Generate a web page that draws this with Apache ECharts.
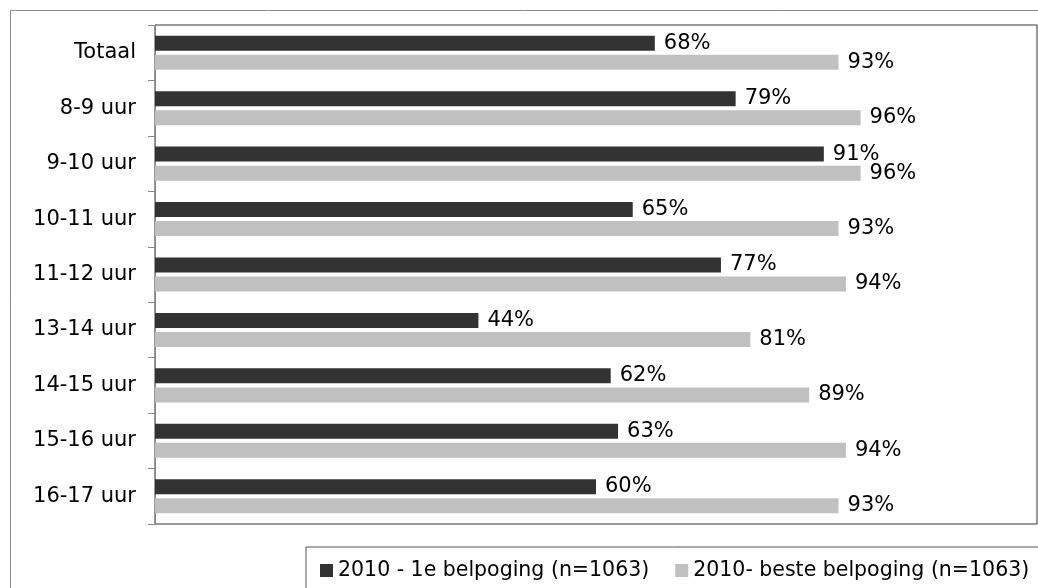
<!DOCTYPE html>
<html>
<head>
<meta charset="utf-8">
<script src="https://cdn.jsdelivr.net/npm/echarts@6/dist/echarts.min.js"></script>
<style>
  html, body { margin: 0; padding: 0; background: #fff; }
  #main { width: 1038px; height: 588px; }
</style>
</head>
<body>
<div id="main"></div>
<script>
// categorieën (van boven naar beneden)
var categories = ['Totaal', '8-9 uur', '9-10 uur', '10-11 uur', '11-12 uur', '13-14 uur', '14-15 uur', '15-16 uur', '16-17 uur'];
// 2010 - 1e belpoging
var eerstePoging = [68, 79, 91, 65, 77, 44, 62, 63, 60];
// 2010 - beste belpoging
var bestePoging = [93, 96, 96, 93, 94, 81, 89, 94, 93];

var seriesNames = ['2010 - 1e belpoging (n=1063)', '2010- beste belpoging (n=1063)'];

var myChart = echarts.init(document.getElementById('main'));

var fontFamily = 'DejaVu Sans, Verdana, sans-serif';

var option = {
    backgroundColor: '#fff',
    animation: false,
    textStyle: { fontFamily: fontFamily },
    graphic: [
        {
            type: 'rect',
            left: 8, top: 8,
            shape: { width: 1100, height: 700 },
            style: { fill: 'none', stroke: '#8c8c8c', lineWidth: 1 },
            silent: true
        }
    ],
    grid: {
        left: 155,
        top: 25,
        right: 1,
        bottom: 64,
        show: true,
        borderColor: '#333',
        borderWidth: 1
    },
    legend: {
        left: 306,
        top: 547,
        width: 900,
        padding: [13, 10, 12, 14],
        borderColor: '#555',
        borderWidth: 1,
        itemWidth: 13,
        itemHeight: 13,
        itemGap: 26,
        icon: 'rect',
        textStyle: { fontSize: 20.5, color: '#000', fontFamily: fontFamily },
        data: seriesNames
    },
    xAxis: {
        type: 'value',
        min: 0,
        max: 120,
        show: false,
        splitLine: { show: false }
    },
    yAxis: {
        type: 'category',
        inverse: true,
        data: categories,
        axisLine: { show: true, lineStyle: { color: '#868686' } },
        axisTick: { show: true, length: 7, lineStyle: { color: '#868686' } },
        axisLabel: { fontSize: 21, color: '#000', margin: 19, fontFamily: fontFamily }
    },
    series: [
        {
            name: seriesNames[0],
            type: 'bar',
            data: eerstePoging,
            barWidth: 15,
            barGap: '27%',
            itemStyle: { color: '#333333' },
            label: {
                show: true,
                position: 'right',
                distance: 9,
                formatter: '{c}%',
                fontSize: 21,
                color: '#000',
                fontFamily: fontFamily
            }
        },
        {
            name: seriesNames[1],
            type: 'bar',
            data: bestePoging,
            barWidth: 15,
            barGap: '27%',
            itemStyle: { color: '#c0c0c0' },
            label: {
                show: true,
                position: 'right',
                distance: 9,
                formatter: '{c}%',
                fontSize: 21,
                color: '#000',
                fontFamily: fontFamily
            }
        }
    ]
};

myChart.setOption(option);
</script>
</body>
</html>
